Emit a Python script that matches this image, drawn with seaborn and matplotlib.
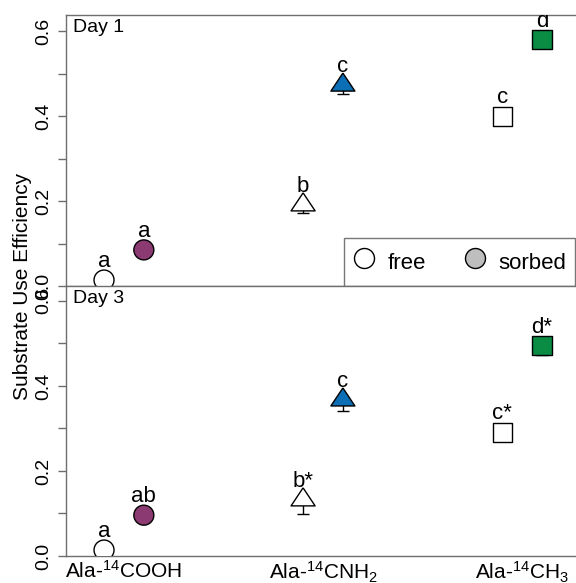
import matplotlib
matplotlib.use("Agg")
import matplotlib.pyplot as plt
import matplotlib.transforms as mtransforms
from matplotlib.lines import Line2D
import seaborn as sns
import pandas as pd
import numpy as np

# substrates (x categories) and their tick labels
substrates = ["COOH", "CNH2", "CH3"]
tick_labels = ["Ala-$^{14}$COOH", "Ala-$^{14}$CNH$_2$", "Ala-$^{14}$CH$_3$"]
forms = ["free", "sorbed"]
days = ["Day 1", "Day 3"]

# mean substrate use efficiency, order: COOH, CNH2, CH3
day1_free = [0.014, 0.191, 0.400]
day1_sorbed = [0.085, 0.473, 0.580]
day3_free = [0.014, 0.132, 0.291]
day3_sorbed = [0.096, 0.367, 0.495]

# standard errors
day1_free_se = [0.004, 0.019, 0.008]
day1_sorbed_se = [0.004, 0.021, 0.008]
day3_free_se = [0.004, 0.033, 0.008]
day3_sorbed_se = [0.006, 0.026, 0.023]

# significance letters
day1_free_lab = ["a", "b", "c"]
day1_sorbed_lab = ["a", "c", "d"]
day3_free_lab = ["a", "b*", "c*"]
day3_sorbed_lab = ["ab", "c", "d*"]

sorbed_colors = {"COOH": "#8C3A72", "CNH2": "#0C6EB5", "CH3": "#0B8C45"}

rows = []
for day, fv, sv, fe, se, fl, sl in [
    (days[0], day1_free, day1_sorbed, day1_free_se, day1_sorbed_se, day1_free_lab, day1_sorbed_lab),
    (days[1], day3_free, day3_sorbed, day3_free_se, day3_sorbed_se, day3_free_lab, day3_sorbed_lab),
]:
    for i, sub in enumerate(substrates):
        rows.append(dict(day=day, substrate=sub, form="free", idx=i, value=fv[i], se=fe[i], label=fl[i]))
        rows.append(dict(day=day, substrate=sub, form="sorbed", idx=i, value=sv[i], se=se[i], label=sl[i]))
df = pd.DataFrame(rows)
df["xpos"] = df["idx"] + np.where(df["form"] == "free", -0.1, 0.1)
df["key"] = np.where(df["form"] == "free", "free", df["substrate"])

palette = {"free": "white", **sorbed_colors}

sns.set_style("ticks")
plt.rcParams["font.family"] = ["Liberation Sans", "DejaVu Sans"]
plt.rcParams["mathtext.default"] = "regular"
for k in ["text.color", "axes.labelcolor", "xtick.labelcolor", "ytick.labelcolor"]:
    plt.rcParams[k] = "black"

# triangle with its point of reference below the centre (apex high, base low)
tri = [(0, 1), (-1, -0.5), (1, -0.5), (0, 1)]
marker_for = {"COOH": "o", "CNH2": tri, "CH3": "s"}
size_for = {"COOH": 207, "CNH2": 300, "CH3": 190}

fig = plt.figure(figsize=(5.76, 5.83), dpi=100)
left, right = 66 / 576, 1.0
y_mid = 1 - 286 / 583
ax_top = fig.add_axes([left, y_mid, right - left, (1 - 15 / 583) - y_mid])
ax_bot = fig.add_axes([left, 1 - 556 / 583, right - left, y_mid - (1 - 556 / 583)])

spine_col = "#6E6E6E"
for ax, day, ytop in [(ax_top, days[0], 0.638), (ax_bot, days[1], 0.635)]:
    d = df[df["day"] == day]
    # lower whiskers only; the upper half sits under the markers
    ax.errorbar(d["xpos"], d["value"], yerr=[d["se"], np.zeros(len(d))], fmt="none",
                ecolor="black", elinewidth=1, capsize=4, capthick=1, zorder=2)
    for sub in substrates:
        ds = d[d["substrate"] == sub]
        sns.scatterplot(data=ds, x="xpos", y="value", hue="key", palette=palette,
                        marker=marker_for[sub], s=size_for[sub], edgecolor="black",
                        linewidth=1, legend=False, ax=ax, zorder=3)
    offset = mtransforms.ScaledTranslation(0, 9.3 / 72, fig.dpi_scale_trans)
    for _, r in d.iterrows():
        ax.text(r["xpos"], r["value"], r["label"], transform=ax.transData + offset,
                ha="center", va="baseline", fontsize=16, clip_on=True, zorder=4)
    ax.set_xlim(-0.291, 2.271)
    ax.set_ylim(0, ytop)
    ax.set_yticks([0, 0.1, 0.2, 0.3, 0.4, 0.5, 0.6])
    ax.set_yticklabels(["0.0", "", "0.2", "", "0.4", "", "0.6"], rotation=90, va="center")
    ax.tick_params(axis="y", length=6, width=1, color=spine_col, labelsize=14, pad=4)
    ax.set_xlabel("")
    ax.set_ylabel("")
    ax.spines["right"].set_visible(False)
    for s in ["left", "top", "bottom"]:
        ax.spines[s].set_color(spine_col)
        ax.spines[s].set_linewidth(1)
    ax.text(0.014, 0.985, day, transform=ax.transAxes, ha="left", va="top", fontsize=14)
    ax.set_facecolor("white")

ax_top.set_xticks([])
ax_bot.set_xticks(range(len(substrates)))
ax_bot.set_xticklabels(tick_labels, fontsize=15)
ax_bot.tick_params(axis="x", length=0, pad=3)

handles = [
    Line2D([], [], ls="none", marker="o", markersize=14.4, markerfacecolor="white",
           markeredgecolor="black", markeredgewidth=1, label=forms[0]),
    Line2D([], [], ls="none", marker="o", markersize=14.4, markerfacecolor="#BEBEBE",
           markeredgecolor="black", markeredgewidth=1, label=forms[1]),
]
leg = ax_top.legend(handles=handles, loc="lower left", bbox_to_anchor=((344 - 66) / 510, 0),
                    ncol=2, frameon=True, fancybox=False, fontsize=16, handlelength=1.0,
                    handleheight=1.75, handletextpad=0.55, columnspacing=1.7,
                    borderpad=0.4, borderaxespad=0)
leg.get_frame().set_edgecolor("#555555")
leg.get_frame().set_linewidth(1)
leg.set_zorder(5)

fig.text(23 / 576, y_mid, "Substrate Use Efficiency", rotation=90, ha="center",
         va="center", fontsize=15)

fig.savefig("out.png", dpi=100)
